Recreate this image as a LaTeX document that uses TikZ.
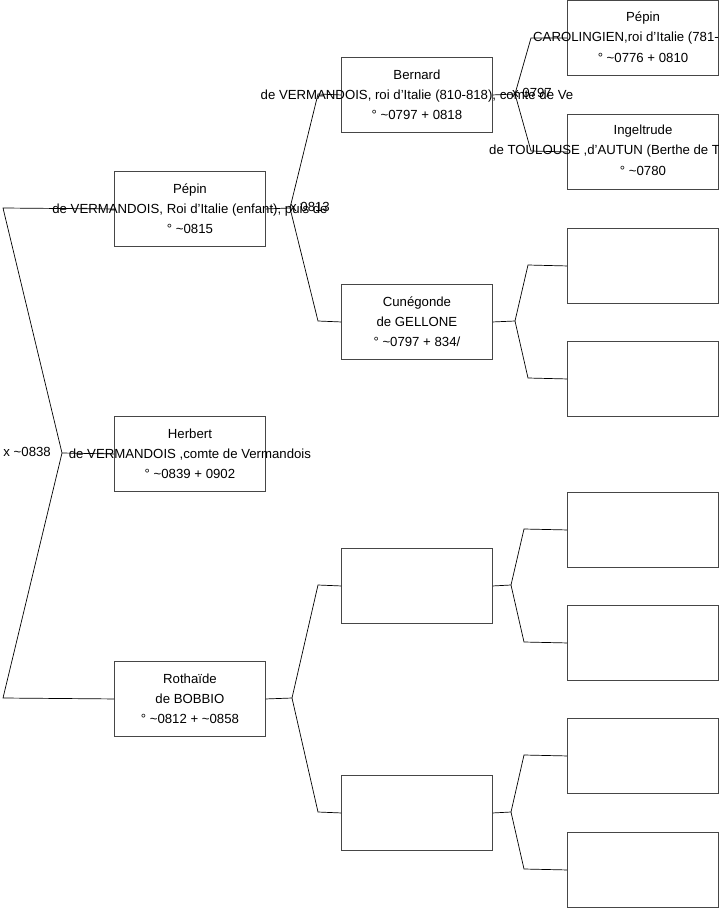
\documentclass[tikz,border=0pt]{standalone}
\usepackage{fontspec}
\setmainfont{Liberation Sans}
\definecolor{boxgray}{RGB}{70,70,70}
\begin{document}
\begin{tikzpicture}[x=1pt,y=-1pt,
  box/.style={draw=boxgray, line width=0.9pt, minimum width=151pt, minimum height=75pt, inner sep=0pt, anchor=north west},
  txt/.style={align=center, font=\fontsize{13.2}{20}\selectfont, inner sep=0pt},
  conn/.style={draw=black, line width=0.7pt}]
\useasboundingbox (0,0) rectangle (719,908);
% boxes
\node[box] (p1) at (114,171) {};
\node[box] (h) at (114,416) {};
\node[box] (r) at (114,661) {};
\node[box] (b) at (341,57) {};
\node[box] (c) at (341,284) {};
\node[box] (e1) at (341,548) {};
\node[box] (e2) at (341,775) {};
\node[box] (g1) at (567,0) {};
\node[box] (g2) at (567,114) {};
\node[box] (g3) at (567,228) {};
\node[box] (g4) at (567,341) {};
\node[box] (g5) at (567,492) {};
\node[box] (g6) at (567,605) {};
\node[box] (g7) at (567,718) {};
\node[box] (g8) at (567,832) {};
% texts
\node[txt] (p1t) at (p1.center) {Pépin\\de VERMANDOIS, Roi d'Italie (enfant), puis de\\° \textasciitilde0815};
\node[txt] (ht) at (h.center) {Herbert\\de VERMANDOIS ,comte de Vermandois\\° \textasciitilde0839 + 0902};
\node[txt] (rt) at (r.center) {Rothaïde\\de BOBBIO\\° \textasciitilde0812 + \textasciitilde0858};
\node[txt] (bt) at (b.center) {Bernard\\de VERMANDOIS, roi d'Italie (810-818), comte de Ve\\° \textasciitilde0797 + 0818};
\node[txt] (ct) at (c.center) {Cunégonde\\de GELLONE\\° \textasciitilde0797 + 834/};
\node[txt] (g1a) at (643,18) {Pépin};
\node[txt, anchor=west] (g1b) at (533,38) {CAROLINGIEN,roi d'Italie (781-};
\node[txt] (g1c) at (643,58) {° \textasciitilde0776 + 0810};
\node[txt] (g2a) at (643,131) {Ingeltrude};
\node[txt, anchor=west] (g2b) at (489,151) {de TOULOUSE ,d'AUTUN (Berthe de T};
\node[txt] (g2c) at (643,171) {° \textasciitilde0780};
% marriage labels
\node[txt, anchor=east] (m0) at (51,452) {x \textasciitilde0838};
\node[txt, anchor=west] (m1) at (290,207) {x 0813};
\node[txt, anchor=west] (m2) at (512,93) {x 0797};
% fork points
\coordinate (v0) at (62,453);
\coordinate (a0) at (3,208);
\coordinate (a1) at (3,698);
\coordinate (v1) at (290,208);
\coordinate (v1a) at (318,94);
\coordinate (v1b) at (318,321);
\coordinate (v2) at (292,698);
\coordinate (v2a) at (318,585);
\coordinate (v2b) at (318,812);
\coordinate (v3) at (515,94);
\coordinate (v3a) at (531,38);
\coordinate (v3b) at (531,151);
\coordinate (v4) at (515,321);
\coordinate (v4a) at (528,265);
\coordinate (v4b) at (528,378);
\coordinate (v5) at (511,585);
\coordinate (v5a) at (524,529);
\coordinate (v5b) at (524,642);
\coordinate (v6) at (511,812);
\coordinate (v6a) at (524,755);
\coordinate (v6b) at (524,869);
% connectors
\draw[conn] (p1.west) -- (a0) -- (v0) -- (a1) -- (r.west);
\draw[conn] (v0) -- (h.west);
\draw[conn] (p1.east) -- (v1);
\draw[conn] (v1) -- (v1a) -- (b.west);
\draw[conn] (v1) -- (v1b) -- (c.west);
\draw[conn] (r.east) -- (v2);
\draw[conn] (v2) -- (v2a) -- (e1.west);
\draw[conn] (v2) -- (v2b) -- (e2.west);
\draw[conn] (b.east) -- (v3);
\draw[conn] (v3) -- (v3a) -- (g1.west);
\draw[conn] (v3) -- (v3b) -- (g2.west);
\draw[conn] (c.east) -- (v4);
\draw[conn] (v4) -- (v4a) -- (g3.west);
\draw[conn] (v4) -- (v4b) -- (g4.west);
\draw[conn] (e1.east) -- (v5);
\draw[conn] (v5) -- (v5a) -- (g5.west);
\draw[conn] (v5) -- (v5b) -- (g6.west);
\draw[conn] (e2.east) -- (v6);
\draw[conn] (v6) -- (v6a) -- (g7.west);
\draw[conn] (v6) -- (v6b) -- (g8.west);
\end{tikzpicture}
\end{document}
